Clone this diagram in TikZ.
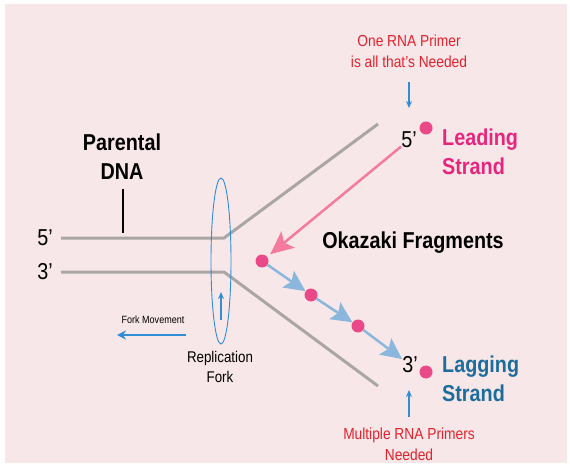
\documentclass[tikz,border=0pt]{standalone}
\usepackage{fontspec}
\setmainfont{Liberation Sans}[FakeStretch=0.86]
\usepackage{tikz}
\usetikzlibrary{arrows.meta, positioning, shapes.geometric}

\definecolor{bgpink}{HTML}{F8E7E8}
\definecolor{strandgray}{HTML}{AAA6A6}
\definecolor{dotpink}{HTML}{E94A87}
\definecolor{leadpink}{HTML}{E8257D}
\definecolor{lagblue}{HTML}{1C6D9C}
\definecolor{notered}{HTML}{E3222D}
\definecolor{markblue}{HTML}{2E8FD6}
\definecolor{fragblue}{HTML}{8BB7DD}
\definecolor{primerpink}{HTML}{F47B9B}

\begin{document}
\begin{tikzpicture}[x=1pt, y=-1pt, >={Stealth},
	dot/.style={circle, fill=dotpink, inner sep=0pt, minimum size=13pt},
	strandline/.style={draw=strandgray, line width=3pt},
	big/.style={font=\fontsize{23}{29}\selectfont, inner sep=0pt},
	bigbold/.style={font=\fontsize{23}{29}\selectfont\bfseries, inner sep=0pt, align=center},
	note/.style={font=\fontsize{16}{21}\selectfont, text=notered, inner sep=0pt, align=center},
	marker/.style={draw=markblue, line width=1.2pt, -{Stealth[length=7pt, width=6pt]}},
	fragarr/.style={draw=fragblue, line width=2.5pt, -{Stealth[length=21pt, width=20pt, inset=4pt]}}]
	\useasboundingbox (0,0) rectangle (570,465);
	\fill [white] (0,0) rectangle (570,465);
	\fill [bgpink] (5,4) rectangle (567,463);

	% parental strands and the fork
	\coordinate (top0) at (61,238);
	\coordinate (topbend) at (224,238);
	\coordinate (topend) at (378,124);
	\coordinate (bot0) at (61,272);
	\coordinate (botbend) at (224,272);
	\coordinate (botend) at (378,386);
	\draw [strandline] (top0) -- (topbend) -- (topend);
	\draw [strandline] (bot0) -- (botbend) -- (botend);

	\node [draw=markblue, line width=0.9pt, ellipse, minimum width=20pt, minimum height=166pt, inner sep=0pt] (fork) at (221,261) {};
	\coordinate (forkin) at (221,320);
	\coordinate (forkup) at (221,292);
	\draw [marker] (forkin) -- (forkup);

	\node [big] (five) at (45,238) {5’};
	\node [big] (three) at (45,272) {3’};
	\node [bigbold] (parent) at (122,157) {Parental\\DNA};
	\coordinate (tickstart) at (123,189);
	\coordinate (tick) at (123,233);
	\draw [line width=1.2pt] (tickstart) -- (tick);

	\node [font=\fontsize{15.5}{20}\selectfont, inner sep=0pt, align=center] (repl) at (220,367) {Replication\\Fork};
	\node [font=\fontsize{10.5}{12}\selectfont, inner sep=0pt] (move) at (153,320) {Fork Movement};
	\coordinate (movestart) at (186,335);
	\coordinate (moveend) at (117,335);
	\draw [marker, line width=1.4pt, -{Stealth[length=9pt, width=9pt]}] (movestart) -- (moveend);

	% leading strand
	\node [dot] (leaddot) at (426,128) {};
	\node [big] (fivelead) at (409,140) {5’};
	\node [bigbold, text=leadpink, align=left, anchor=west] (lead) at (442,152) {Leading\\Strand};
	\node [note] (one) at (409,51) {One RNA Primer\\is all that’s Needed};
	\coordinate (onearr) at (409,82);
	\coordinate (onetip) at (409,108);
	\draw [marker] (onearr) -- (onetip);

	% lagging strand
	\node [dot] (frag1) at (262,261) {};
	\node [dot] (frag2) at (311,295) {};
	\node [dot] (frag3) at (358,326) {};
	\node [dot] (lagdot) at (426,372) {};
	\node [big] (threelag) at (410,365) {3’};
	\node [bigbold, text=lagblue, align=left, anchor=west] (lag) at (442,379) {Lagging\\Strand};
	\node [note] (many) at (409,444) {Multiple RNA Primers\\Needed};
	\coordinate (manyarr) at (409,417);
	\coordinate (manytip) at (409,390);
	\draw [marker] (manyarr) -- (manytip);

	\draw [draw=primerpink, line width=2.5pt, -{Stealth[length=23pt, width=21pt, inset=5pt]}, shorten >=4pt] (fivelead) -- (frag1);
	\draw [fragarr] (frag1) -- (frag2);
	\draw [fragarr] (frag2) -- (frag3);
	\draw [fragarr] (frag3) -- (threelag);

	\node [bigbold] (okazaki) at (413,243) {Okazaki Fragments};
\end{tikzpicture}
\end{document}
